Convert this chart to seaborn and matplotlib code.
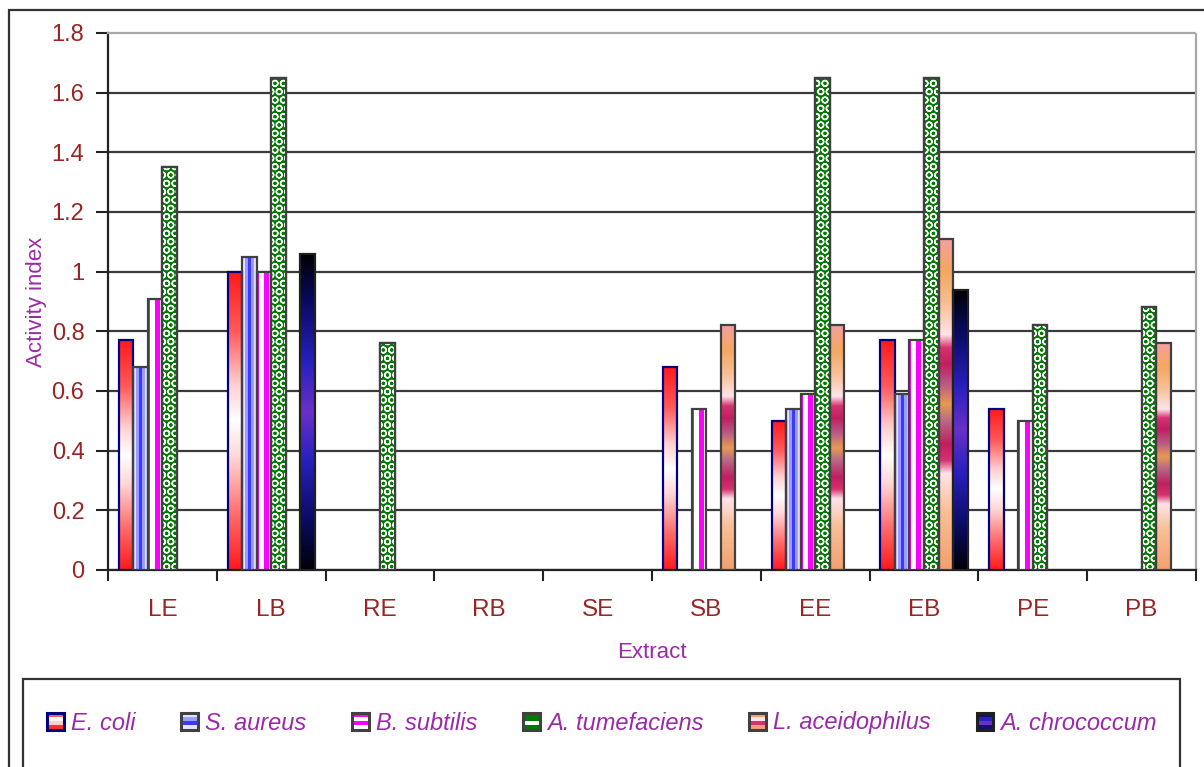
import numpy as np
import pandas as pd
import matplotlib
matplotlib.use("Agg")
import matplotlib.pyplot as plt
import seaborn as sns
from matplotlib.patches import Rectangle, Patch
from matplotlib.colors import LinearSegmentedColormap, to_rgba
from matplotlib.legend_handler import HandlerBase

# ---------------- data ----------------
extracts = ["LE", "LB", "RE", "RB", "SE", "SB", "EE", "EB", "PE", "PB"]
series_names = ["E. coli", "S. aureus", "B. subtilis", "A. tumefaciens",
                "L. aceidophilus", "A. chrococcum"]
e_coli = [0.77, 1.00, 0, 0, 0, 0.68, 0.50, 0.77, 0.54, 0]
s_aureus = [0.68, 1.05, 0, 0, 0, 0, 0.54, 0.59, 0, 0]
b_subtilis = [0.91, 1.00, 0, 0, 0, 0.54, 0.59, 0.77, 0.50, 0]
a_tumefaciens = [1.35, 1.65, 0.76, 0, 0, 0, 1.65, 1.65, 0.82, 0.88]
l_aceidophilus = [0, 0, 0, 0, 0, 0.82, 0.82, 1.11, 0, 0.76]
a_chrococcum = [0, 1.06, 0, 0, 0, 0, 0, 0.94, 0, 0]
y_ticks = [0, 0.2, 0.4, 0.6, 0.8, 1.0, 1.2, 1.4, 1.6, 1.8]
y_tick_labels = ["0", "0.2", "0.4", "0.6", "0.8", "1", "1.2", "1.4", "1.6", "1.8"]
x_label = "Extract"
y_label = "Activity index"

values = [e_coli, s_aureus, b_subtilis, a_tumefaciens, l_aceidophilus, a_chrococcum]
rows = []
for name, vals in zip(series_names, values):
    for ext, v in zip(extracts, vals):
        rows.append({"Extract": ext, "Organism": name, "Activity": v})
df = pd.DataFrame(rows)

# ---------------- style ----------------
sns.set_theme(style="white")
plt.rcParams["font.family"] = ["Liberation Sans", "DejaVu Sans"]
plt.rcParams["hatch.linewidth"] = 1.0

TICK_COLOR = "#9a2424"
LABEL_COLOR = "#9b2aa8"

base_colors = ["#ff4040", "#8080ff", "#ff00ff", "#008000", "#f4a070", "#2020a0"]
edge_colors = ["#000080", "#404040", "#404040", "#404040", "#404040", "#202020"]

fig = plt.figure(figsize=(12.04, 7.67), dpi=100)
ax = fig.add_axes([108 / 1204, 1 - 570 / 767, (1196 - 108) / 1204, (570 - 33) / 767])

sns.barplot(data=df, x="Extract", y="Activity", hue="Organism",
            order=extracts, hue_order=series_names, palette=base_colors,
            saturation=1, width=0.8, errorbar=None, legend=False, ax=ax)

# fills
def vgrad(stops):
    cm = LinearSegmentedColormap.from_list("g", stops)
    return cm(np.linspace(0, 1, 256))[:, None, :]

def hstripes(cols):
    return np.array([[to_rgba(c) for c in cols]])

fills = [
    ("v", vgrad([(0, "#ff1a1a"), (0.18, "#ff6a6a"), (0.38, "#ffd8d8"), (0.5, "#ffffff"),
                 (0.62, "#ffd0d0"), (0.8, "#ff5a5a"), (1, "#ff1a1a")])),
    ("h", hstripes(["#e4e4ff", "#9a9aff", "#3a3aff", "#9a9aff", "#e4e4ff"])),
    ("h", hstripes(["#ff00ff", "#ffffff", "#ffffff", "#ff00ff", "#ff00ff", "#ffffff"])),
    ("s", None),
    ("v", vgrad([(0, "#f4a070"), (0.18, "#f8c098"), (0.29, "#ffe4ea"), (0.33, "#d63070"),
                 (0.38, "#c02060"), (0.45, "#b86a88"), (0.5, "#e89a50"), (0.56, "#b85a88"),
                 (0.62, "#c02060"), (0.67, "#d63070"), (0.71, "#ffe4ea"), (0.8, "#f8c098"),
                 (0.9, "#f4a860"), (1, "#f4a0a0")])),
    ("v", vgrad([(0, "#000008"), (0.15, "#0a0a60"), (0.35, "#2a20c0"), (0.5, "#6a30c8"),
                 (0.65, "#2a20c0"), (0.85, "#0a0a60"), (1, "#000000")])),
]

for i, cont in enumerate(ax.containers):
    kind, arr = fills[i]
    for p in cont.patches:
        h = p.get_height()
        if h <= 0:
            p.set_visible(False)
            continue
        x, w = p.get_x(), p.get_width()
        p.set_edgecolor(edge_colors[i])
        p.set_linewidth(1.6)
        p.set_zorder(4)
        if kind == "s":
            p.set_facecolor("#007a00")
            p.set_zorder(2)
            hat = Rectangle((x, 0), w, h, facecolor="none", edgecolor="white",
                            hatch="OO", lw=0, zorder=3)
            ax.add_patch(hat)
            edge = Rectangle((x, 0), w, h, facecolor="none",
                             edgecolor=edge_colors[i], lw=1.6, zorder=4)
            ax.add_patch(edge)
        else:
            p.set_facecolor("none")
            im = ax.imshow(arr, extent=[x, x + w, 0, h], origin="lower", aspect="auto",
                           interpolation="bilinear" if kind == "v" else "nearest",
                           zorder=3)
            im.set_clip_path(p)

ax.set_xlim(-0.5, len(extracts) - 0.5)
ax.set_ylim(0, 1.8)
ax.set_aspect("auto")

# axes
ax.set_yticks(y_ticks)
ax.set_yticklabels(y_tick_labels)
ax.set_xticks(range(len(extracts)))
ax.set_xticklabels(extracts)
ax.set_xticks(np.arange(-0.5, len(extracts), 1), minor=True)
ax.tick_params(axis="x", which="major", length=0, pad=21, labelsize=17.5, labelcolor=TICK_COLOR)
ax.tick_params(axis="x", which="minor", length=8, width=1.5, color="#222222", bottom=True)
ax.tick_params(axis="y", which="major", length=9, width=1.5, color="#222222", left=True,
               pad=8, labelsize=17, labelcolor=TICK_COLOR)

ax.set_axisbelow(True)
ax.yaxis.grid(True, color="#3a3a3a", lw=1.6)
ax.xaxis.grid(False)
ax.yaxis.get_gridlines()[-1].set_visible(False)

for s in ["left", "bottom"]:
    ax.spines[s].set_color("#222222")
    ax.spines[s].set_linewidth(1.6)
for s in ["top", "right"]:
    ax.spines[s].set_color("#a8a8a8")
    ax.spines[s].set_linewidth(1.6)
    ax.spines[s].set_linestyle((0, (1, 1)))

ax.set_xlabel(x_label, fontsize=16, color=LABEL_COLOR, labelpad=15)
ax.set_ylabel(y_label, fontsize=16, color=LABEL_COLOR, labelpad=3)

# outer border and legend box
fig.add_artist(Rectangle((8.5 / 1204, -0.2), 1.2, 1 - 10 / 767 + 0.2, transform=fig.transFigure,
                         fill=False, edgecolor="#333333", lw=1.6))
fig.add_artist(Rectangle((22.7 / 1204, -0.2), (1180 - 22.7) / 1204, 1 - 679 / 767 + 0.2,
                         transform=fig.transFigure, fill=False, edgecolor="#333333", lw=1.6))

# legend
legend_swatches = [
    ["#ff3030", "#ffd0d0", "#ffffff", "#ff6060"],
    ["#e4e4ff", "#3a3aff", "#9a9aff", "#e4e4ff"],
    ["#ffffff", "#ff00ff", "#ffffff", "#ff00ff"],
    ["#007a00", "#ffffff", "#007a00", "#007a00"],
    ["#f4a070", "#d63070", "#ffe4ea", "#f4a070"],
    ["#101070", "#6a30c8", "#2a20c0", "#101070"],
]


class StripeHandler(HandlerBase):
    def __init__(self, colors, edge):
        super().__init__()
        self.colors = colors
        self.edge = edge

    def create_artists(self, legend, orig_handle, xdescent, ydescent, width, height,
                       fontsize, trans):
        arts = []
        n = len(self.colors)
        for k, c in enumerate(self.colors):
            arts.append(Rectangle((-xdescent, -ydescent + k * height / n), width, height / n,
                                  facecolor=c, edgecolor="none", transform=trans))
        arts.append(Rectangle((-xdescent, -ydescent), width, height, facecolor="none",
                              edgecolor=self.edge, lw=2.2, transform=trans))
        return arts


handles = [Patch(label=n) for n in series_names]
hmap = {h: StripeHandler(legend_swatches[i], edge_colors[i]) for i, h in enumerate(handles)}
leg = fig.legend(handles=handles, labels=series_names, handler_map=hmap, loc="center",
                 bbox_to_anchor=(0.5, 1 - 723 / 767), ncol=6, frameon=False,
                 prop={"style": "italic", "size": 17}, labelcolor=LABEL_COLOR,
                 handlelength=0.7, handleheight=0.7, handletextpad=0.3,
                 columnspacing=1.95)

fig.savefig("out.png", dpi=100)
